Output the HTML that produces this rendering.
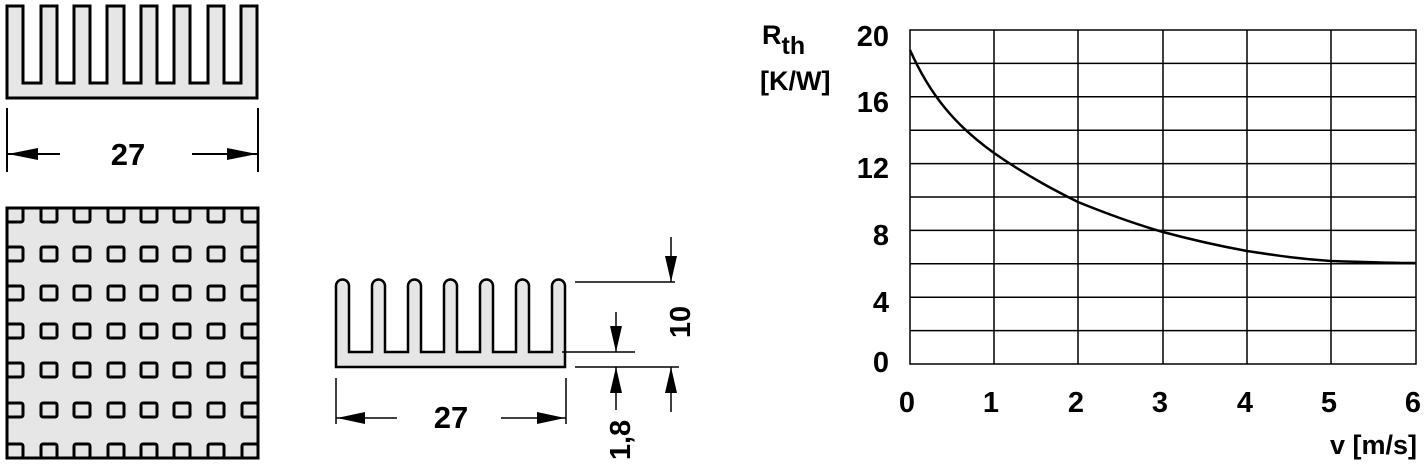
<!DOCTYPE html>
<html><head><meta charset="utf-8"><style>
html,body{margin:0;padding:0;background:#fff;}
svg text{font-family:"Liberation Sans",sans-serif;font-weight:bold;fill:#000;}
</style></head><body>
<svg width="1427" height="464" viewBox="0 0 1427 464" xmlns="http://www.w3.org/2000/svg">
<defs>
<g id="row">
<rect x="7" y="0" width="16" height="14" rx="2"/><rect x="41" y="0" width="16" height="14" rx="2"/><rect x="74" y="0" width="16" height="14" rx="2"/><rect x="108" y="0" width="16" height="14" rx="2"/><rect x="141" y="0" width="16" height="14" rx="2"/><rect x="174" y="0" width="16" height="14" rx="2"/><rect x="208" y="0" width="16" height="14" rx="2"/><rect x="242" y="0" width="16" height="14" rx="2"/>
</g>
</defs>
<!-- top heatsink -->
<path d="M7,6 H23 V83 H41 V6 H57 V83 H74 V6 H90 V83 H107 V6 H124 V83 H141 V6 H157 V83 H174 V6 H190 V83 H208 V6 H224 V83 H241 V6 H257 V98 H7 Z" fill="#e6e6e6" stroke="#000" stroke-width="3"/>
<g stroke="#000" stroke-width="2">
<line x1="7" y1="108" x2="7" y2="172"/><line x1="258" y1="108" x2="258" y2="172"/>
<line x1="60" y1="154" x2="8" y2="154"/><line x1="192" y1="154" x2="257" y2="154"/>
</g>
<path d="M8,154 L38,148 L38,160Z M257,154 L227,148 L227,160Z" fill="#000"/>
<text x="128" y="165" font-size="31" text-anchor="middle">27</text>
<!-- pin grid -->
<rect x="7" y="208" width="251" height="250" fill="#e6e6e6" stroke="#000" stroke-width="3"/>
<g fill="none" stroke="#000" stroke-width="3">
<use href="#row" y="208"/><use href="#row" y="247"/><use href="#row" y="286"/><use href="#row" y="324"/><use href="#row" y="363"/><use href="#row" y="403"/><use href="#row" y="444"/>
</g>
<!-- middle heatsink -->
<path d="M336,352 V286 A6.5,6.5 0 0 1 349,286 V352 H372 V286 A6.5,6.5 0 0 1 385,286 V352 H408 V286 A6.5,6.5 0 0 1 421,286 V352 H444 V286 A6.5,6.5 0 0 1 457,286 V352 H480 V286 A6.5,6.5 0 0 1 493,286 V352 H516 V286 A6.5,6.5 0 0 1 529,286 V352 H552 V286 A6.5,6.5 0 0 1 565,286 V367 H336 Z" fill="#e6e6e6" stroke="#000" stroke-width="2.5"/>
<g stroke="#000" stroke-width="1.5">
<line x1="575" y1="282" x2="675" y2="282"/>
<line x1="562" y1="352" x2="635" y2="352"/>
<line x1="575" y1="367" x2="679" y2="367"/>
<line x1="671" y1="237" x2="671" y2="282"/>
<line x1="616" y1="312" x2="616" y2="352"/>
<line x1="616" y1="367" x2="616" y2="410"/>
<line x1="671" y1="367" x2="671" y2="412"/>
<line x1="336" y1="378" x2="336" y2="424"/><line x1="566" y1="378" x2="566" y2="424"/>
<line x1="336" y1="418" x2="397" y2="418"/><line x1="501" y1="418" x2="566" y2="418"/>
</g>
<path d="M671,282 L665,256 L677,256Z M616,352 L610,326 L622,326Z M616,367 L610,393 L622,393Z M671,367 L665,393 L677,393Z M337,418 L365,412 L365,424Z M565,418 L537,412 L537,424Z" fill="#000"/>
<text x="451" y="428" font-size="31" text-anchor="middle">27</text>
<text transform="translate(690,322) rotate(-90)" font-size="29" text-anchor="middle">10</text>
<text transform="translate(630,440) rotate(-90)" font-size="29" text-anchor="middle">1,8</text>
<!-- chart -->
<g stroke="#000" stroke-width="1.5" fill="none">
<rect x="910" y="30" width="506" height="334"/>
<line x1="910" y1="63.4" x2="1416" y2="63.4"/><line x1="910" y1="96.8" x2="1416" y2="96.8"/><line x1="910" y1="130.2" x2="1416" y2="130.2"/><line x1="910" y1="163.6" x2="1416" y2="163.6"/><line x1="910" y1="197" x2="1416" y2="197"/><line x1="910" y1="230.4" x2="1416" y2="230.4"/><line x1="910" y1="263.8" x2="1416" y2="263.8"/><line x1="910" y1="297.2" x2="1416" y2="297.2"/><line x1="910" y1="330.6" x2="1416" y2="330.6"/>
<line x1="994" y1="30" x2="994" y2="364"/><line x1="1078" y1="30" x2="1078" y2="364"/><line x1="1163" y1="30" x2="1163" y2="364"/><line x1="1247" y1="30" x2="1247" y2="364"/><line x1="1331" y1="30" x2="1331" y2="364"/>
</g>
<path d="M910,50 C930,95 955,125 994,153 C1030,178 1060,193 1078,202 C1110,215 1135,224 1163,232 C1200,242 1225,247 1247,251 C1280,256 1300,259 1331,261 C1360,262 1390,263 1416,263" fill="none" stroke="#000" stroke-width="2.5"/>
<g font-size="29" text-anchor="end">
<text x="889" y="46">20</text><text x="889" y="112">16</text><text x="889" y="178">12</text><text x="889" y="245">8</text><text x="889" y="312">4</text><text x="889" y="372">0</text>
</g>
<g font-size="29" text-anchor="middle">
<text x="907" y="412">0</text><text x="991" y="412">1</text><text x="1076" y="412">2</text><text x="1160" y="412">3</text><text x="1245" y="412">4</text><text x="1329" y="412">5</text><text x="1413" y="412">6</text>
</g>
<text x="1417" y="454" font-size="27" text-anchor="end">v [m/s]</text>
<text x="762" y="44" font-size="27">R<tspan font-size="25" dy="10">th</tspan></text>
<text x="760" y="90" font-size="27">[K/W]</text>
</svg>
</body></html>
